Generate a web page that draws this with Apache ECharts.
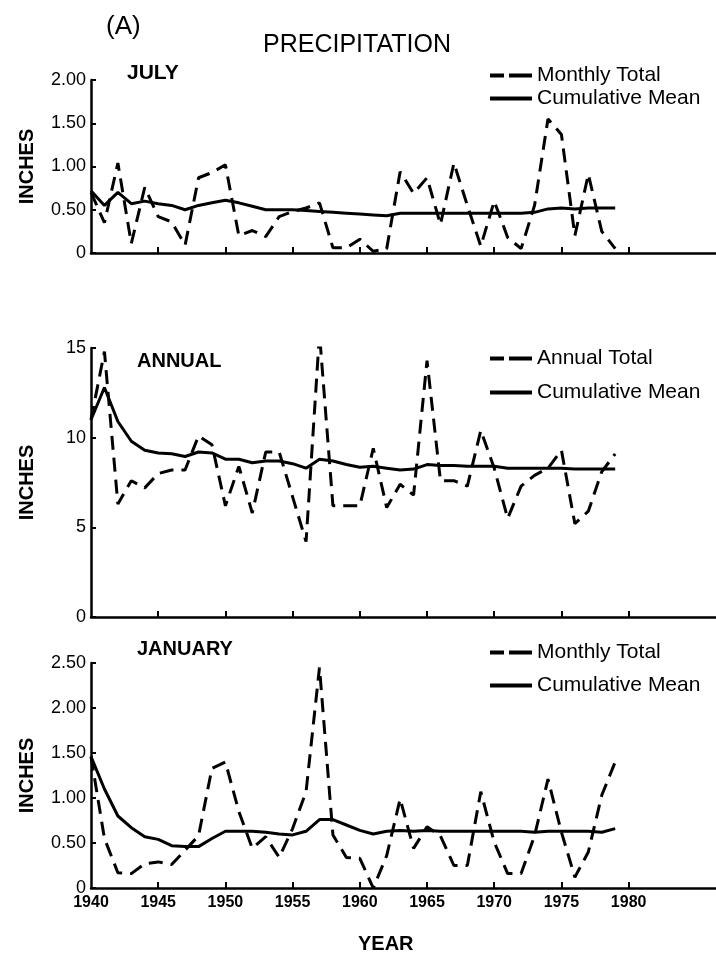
<!DOCTYPE html>
<html><head><meta charset="utf-8">
<script src="https://cdn.jsdelivr.net/npm/echarts@6/dist/echarts.min.js"></script>
<style>html,body{margin:0;padding:0;background:#fff}#c{width:716px;height:958px}</style>
</head><body><div id="c"></div>
<script>
const years = [1940,1941,1942,1943,1944,1945,1946,1947,1948,1949,
  1950,1951,1952,1953,1954,1955,1956,1957,1958,1959,
  1960,1961,1962,1963,1964,1965,1966,1967,1968,1969,
  1970,1971,1972,1973,1974,1975,1976,1977,1978,1979];
const yearTicks = [1940,1945,1950,1955,1960,1965,1970,1975,1980];

const julyTotal = [0.70,0.35,1.04,0.11,0.76,0.42,0.36,0.09,0.87,0.93,
  1.02,0.20,0.26,0.19,0.42,0.48,0.52,0.58,0.06,0.06,
  0.16,0.02,0.05,0.94,0.69,0.87,0.33,1.04,0.55,0.08,
  0.60,0.18,0.05,0.55,1.55,1.37,0.20,0.91,0.25,0.05];
const julyMean = [0.72,0.55,0.70,0.57,0.60,0.57,0.55,0.50,0.55,0.58,
  0.61,0.58,0.54,0.50,0.50,0.50,0.49,0.48,0.47,0.46,
  0.45,0.44,0.43,0.46,0.46,0.46,0.46,0.46,0.46,0.46,
  0.46,0.46,0.46,0.47,0.51,0.52,0.51,0.52,0.52,0.52];

const annualTotal = [11.0,14.8,6.3,7.6,7.2,8.0,8.2,8.2,10.1,9.6,
  6.2,8.4,5.8,9.2,9.2,6.7,4.2,15.8,6.2,6.2,
  6.2,9.4,6.1,7.4,6.8,14.3,7.6,7.6,7.3,10.4,
  8.3,5.5,7.3,7.9,8.3,9.3,5.2,5.9,8.1,9.1];
const annualMean = [11.0,12.8,10.9,9.8,9.3,9.15,9.1,8.95,9.2,9.15,
  8.8,8.8,8.6,8.7,8.7,8.55,8.3,8.8,8.7,8.5,
  8.35,8.4,8.3,8.2,8.25,8.5,8.45,8.45,8.4,8.4,
  8.4,8.3,8.3,8.3,8.3,8.3,8.25,8.25,8.25,8.25];

const janTotal = [1.46,0.55,0.17,0.16,0.27,0.29,0.26,0.42,0.58,1.33,
  1.40,0.85,0.44,0.57,0.34,0.66,1.07,2.45,0.59,0.34,
  0.33,0.00,0.36,0.99,0.44,0.68,0.58,0.25,0.25,1.07,
  0.51,0.16,0.16,0.58,1.21,0.62,0.12,0.40,1.03,1.40];
const janMean = [1.46,1.10,0.80,0.67,0.57,0.54,0.47,0.46,0.46,0.55,
  0.63,0.63,0.63,0.62,0.60,0.59,0.63,0.76,0.76,0.70,
  0.64,0.60,0.63,0.64,0.63,0.64,0.63,0.63,0.63,0.63,
  0.63,0.63,0.63,0.62,0.63,0.63,0.63,0.63,0.62,0.66];

const FONT = '"Liberation Sans",Arial,sans-serif';
const chart = echarts.init(document.getElementById('c'), null, {renderer:'canvas'});
const pairs = vals => years.map((y,i)=>[y, vals[i]]);

const grids = [
  {left:91, right:0, top:80, height:173},
  {left:91, right:0, top:348, height:269},
  {left:91, right:0, top:663, height:225}
];
function xAx(i, labels){
  return {type:'value', gridIndex:i, min:1940, max:1986.5,
    axisLine:{lineStyle:{color:'#000', width:2.5}},
    axisTick:{show:true, inside:true, length:6, lineStyle:{color:'#000', width:2}, customValues: yearTicks.slice(1)},
    axisLabel:{show:labels, customValues: yearTicks, color:'#000', fontFamily:FONT, fontWeight:'bold', fontSize:16, margin:7,
      formatter: v => String(v)},
    splitLine:{show:false}};
}
function yAx(i, max, interval, dec){
  return {type:'value', gridIndex:i, min:0, max:max, interval:interval,
    axisLine:{show:true, lineStyle:{color:'#000', width:2.5}},
    axisTick:{show:true, inside:true, length:5, lineStyle:{color:'#000', width:2}},
    axisLabel:{color:'#000', fontFamily:FONT, fontSize:18, margin:5,
      formatter: v => v === 0 ? '0' : (dec ? v.toFixed(2) : String(v))},
    splitLine:{show:false},
    name:'INCHES', nameLocation:'middle', nameGap:54, nameRotate:90,
    nameTextStyle:{color:'#000', fontFamily:FONT, fontWeight:'bold', fontSize:20}};
}
function dashed(name, i, vals){
  return {type:'line', name:name, xAxisIndex:i, yAxisIndex:i, data:pairs(vals), symbol:'none',
    lineStyle:{color:'#000', width:3, type:[14,8]}, itemStyle:{color:'#000'}, z:3};
}
function solid(name, i, vals){
  return {type:'line', name:name, xAxisIndex:i, yAxisIndex:i, data:pairs(vals), symbol:'none',
    lineStyle:{color:'#000', width:3}, itemStyle:{color:'#000'}, z:4};
}
const DASH_ICON = 'path://M0,0h14v4H0z M19,0h23v4H19z';
const SOLID_ICON = 'path://M0,0h42v4H0z';
function legend(dashName, top, gap){
  return {data:[{name:dashName, icon:DASH_ICON}, {name:'Cumulative Mean', icon:SOLID_ICON}],
    orient:'vertical', left:490, top:top, itemGap:gap, itemWidth:42, itemHeight:4, padding:0,
    itemStyle:{color:'#000'},
    textStyle:{color:'#000', fontFamily:FONT, fontSize:21, lineHeight:21}};
}
const txt = (text, left, top, size, weight) => ({text:text, left:left, top:top, padding:0,
  textStyle:{color:'#000', fontFamily:FONT, fontSize:size, fontWeight:weight || 'normal'}});

chart.setOption({
  animation:false,
  backgroundColor:'#fff',
  title:[
    txt('(A)', 106, 14, 26, 'normal'),
    txt('PRECIPITATION', 263, 33, 25, 'normal'),
    txt('JULY', 127, 63, 21, 'bold'),
    txt('ANNUAL', 137, 351, 20, 'bold'),
    txt('JANUARY', 137, 639, 20, 'bold'),
    txt('YEAR', 358, 934, 20, 'bold')
  ],
  legend:[
    legend('Monthly Total', 65, 2),
    legend('Annual Total', 348, 13),
    legend('Monthly Total', 642, 12)
  ],
  grid:grids,
  xAxis:[xAx(0,false), xAx(1,false), xAx(2,true)],
  yAxis:[yAx(0,2,0.5,true), yAx(1,15,5,false), yAx(2,2.5,0.5,true)],
  series:[
    dashed('Monthly Total',0,julyTotal), solid('Cumulative Mean',0,julyMean),
    dashed('Annual Total',1,annualTotal), solid('Cumulative Mean',1,annualMean),
    dashed('Monthly Total',2,janTotal), solid('Cumulative Mean',2,janMean)
  ]
});
</script></body></html>
